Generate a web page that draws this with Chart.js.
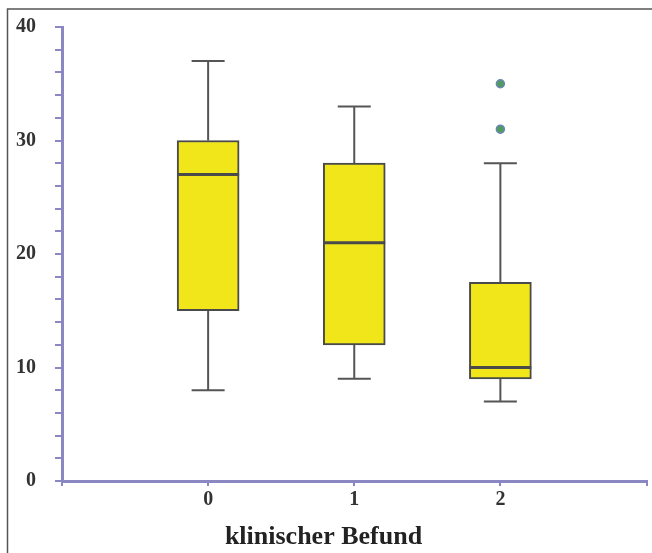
<!DOCTYPE html>
<html>
<head>
<meta charset="utf-8">
<script src="https://cdn.jsdelivr.net/npm/chart.js@4/dist/chart.umd.min.js"></script>
<style>
    html, body { margin: 0; padding: 0; background: #fff; }
    #wrap { width: 652px; height: 553px; }
</style>
</head>
<body>
<div id="wrap"><canvas id="box_chart" width="652" height="553"></canvas></div>
<script>
// Box plot values
var categories = [0, 1, 2];
var whiskerLow = [8, 9, 7];
var q1 = [15, 12, 9];
var median = [27, 21, 10];
var q3 = [30, 28, 17.5];
var whiskerHigh = [37, 33, 28];
var outliers = [[], [], [31, 35]];
var yTicks = [0, 10, 20, 30, 40];
var xTicks = [0, 1, 2];

// half widths in category units (style)
var BOX_HALF = 0.212;
var CAP_HALF = 0.113;

var axisColor = '#8b87c2';
var lineColor = '#4a4a4a';

function buildSegments() {
    var whiskers = [], medians = [], boxes = [], points = [];
    categories.forEach(function(c, i) {
        whiskers.push({x: c, y: q3[i]}, {x: c, y: whiskerHigh[i]}, {x: c, y: null});
        whiskers.push({x: c, y: q1[i]}, {x: c, y: whiskerLow[i]}, {x: c, y: null});
        whiskers.push({x: c - CAP_HALF, y: whiskerHigh[i]}, {x: c + CAP_HALF, y: whiskerHigh[i]}, {x: c, y: null});
        whiskers.push({x: c - CAP_HALF, y: whiskerLow[i]}, {x: c + CAP_HALF, y: whiskerLow[i]}, {x: c, y: null});
        medians.push({x: c - BOX_HALF, y: median[i]}, {x: c + BOX_HALF, y: median[i]}, {x: c, y: null});
        boxes.push({x: c, y: [q1[i], q3[i]]});
        outliers[i].forEach(function(v) {
            points.push({x: c, y: v});
        });
    });
    return {whiskers: whiskers, medians: medians, boxes: boxes, points: points};
}

var seg = buildSegments();

var framePlugin = {
    id: 'frame',
    afterDraw: function(chart) {
        var ctx = chart.ctx;
        ctx.save();
        ctx.strokeStyle = '#555';
        ctx.lineWidth = 1.5;
        ctx.beginPath();
        ctx.moveTo(7.5, 560);
        ctx.lineTo(7.5, 9);
        ctx.lineTo(660, 9);
        ctx.stroke();
        ctx.restore();
    }
};

var ctx = document.getElementById('box_chart').getContext('2d');
new Chart(ctx, {
    type: 'bar',
    data: {
        datasets: [
            {
                type: 'line',
                data: seg.medians,
                borderColor: lineColor,
                borderWidth: 3,
                pointRadius: 0,
                spanGaps: false
            },
            {
                type: 'scatter',
                data: seg.points,
                backgroundColor: '#4f9c5c',
                borderColor: '#6c84b8',
                borderWidth: 1.5,
                pointRadius: 4
            },
            {
                type: 'bar',
                data: seg.boxes,
                backgroundColor: '#f0e619',
                borderColor: lineColor,
                borderWidth: 2,
                borderSkipped: false,
                barThickness: 62
            },
            {
                type: 'line',
                data: seg.whiskers,
                borderColor: '#555',
                borderWidth: 2,
                pointRadius: 0,
                spanGaps: false
            }
        ]
    },
    options: {
        responsive: false,
        animation: false,
        events: [],
        layout: {
            padding: {left: 0, right: 5, top: 27, bottom: 0}
        },
        plugins: {
            legend: {display: false},
            tooltip: {enabled: false},
            // axis title centred on the whole picture, as in the source
            title: {
                display: true,
                position: 'bottom',
                text: 'klinischer Befund',
                color: '#222',
                font: {family: 'Liberation Serif', size: 26, weight: 'bold'},
                padding: {top: 0, bottom: 0}
            }
        },
        scales: {
            x: {
                type: 'linear',
                min: -1,
                max: 3,
                offset: false,
                afterBuildTicks: function(scale) {
                    scale.ticks = [-1].concat(xTicks).concat([3]).map(function(v) { return {value: v}; });
                },
                afterFit: function(scale) {
                    scale.height = 40.8;
                    scale.paddingLeft = 0;
                    scale.paddingRight = 0;
                },
                ticks: {
                    color: '#333',
                    padding: 2,
                    maxRotation: 0,
                    autoSkip: false,
                    font: {family: 'Liberation Serif', size: 20, weight: 'bold'},
                    callback: function(v) { return xTicks.indexOf(v) >= 0 ? String(v) : ''; }
                },
                grid: {
                    offset: false,
                    drawOnChartArea: false,
                    color: axisColor,
                    lineWidth: 2,
                    tickLength: 5
                },
                border: {color: axisColor, width: 3}
            },
            y: {
                min: 0,
                max: 40,
                afterBuildTicks: function(scale) {
                    var t = [];
                    for (var v = 0; v <= 40; v += 2) t.push({value: v});
                    scale.ticks = t;
                },
                afterFit: function(scale) {
                    scale.width = 62;
                    scale.paddingTop = 0;
                    scale.paddingBottom = 0;
                },
                ticks: {
                    color: '#333',
                    padding: 19,
                    autoSkip: false,
                    font: {family: 'Liberation Serif', size: 20, weight: 'bold'},
                    callback: function(v) { return yTicks.indexOf(v) >= 0 ? String(v) : ''; }
                },
                grid: {
                    drawOnChartArea: false,
                    color: axisColor,
                    lineWidth: 2,
                    tickLength: 7
                },
                border: {color: axisColor, width: 3}
            }
        }
    },
    plugins: [framePlugin]
});
</script>
</body>
</html>
